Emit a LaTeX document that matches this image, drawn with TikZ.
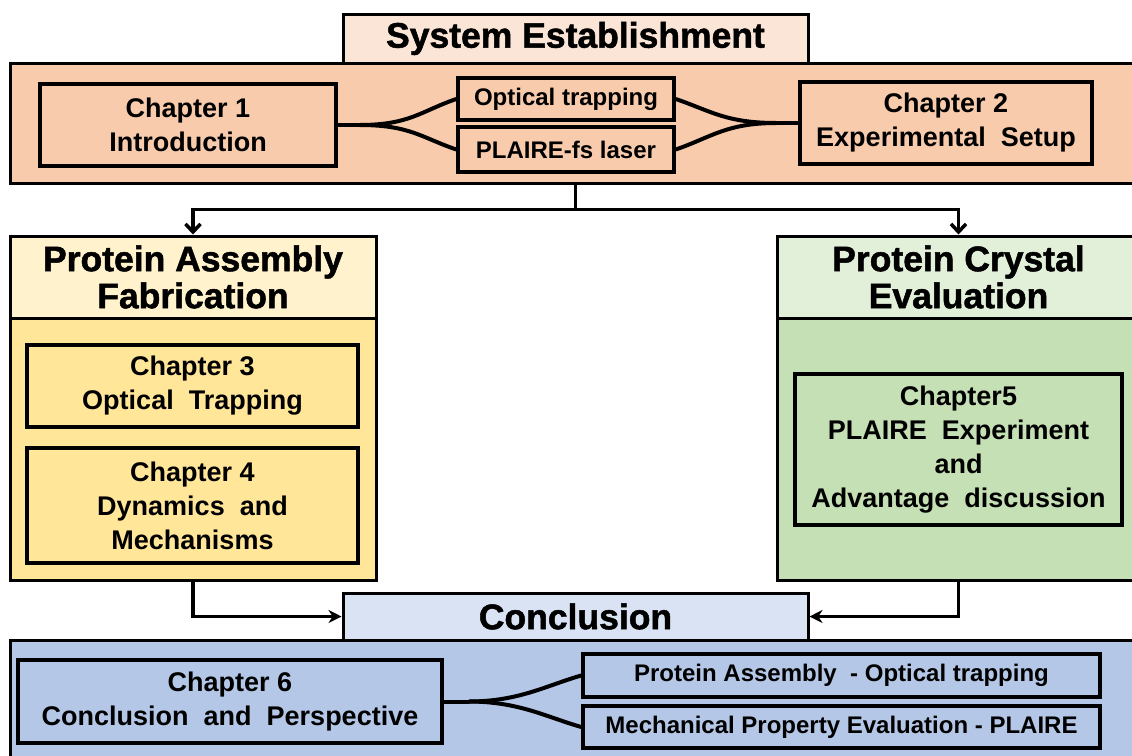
\documentclass[tikz,border=0pt]{standalone}
\usepackage{fontspec}
\setmainfont{Liberation Sans}
\newfontfamily\heavyfam{Liberation Sans}[BoldFeatures={FakeBold=1.4}]
\usetikzlibrary{arrows.meta,calc}
\definecolor{peachL}{HTML}{FBE5D6}
\definecolor{peach}{HTML}{F8CBAD}
\definecolor{yelL}{HTML}{FFF2CC}
\definecolor{yel}{HTML}{FFE699}
\definecolor{grnL}{HTML}{E2F0D9}
\definecolor{grn}{HTML}{C5E0B4}
\definecolor{bluL}{HTML}{DAE3F3}
\definecolor{blu}{HTML}{B4C7E7}
\newcommand\chapfnt{\bfseries\fontsize{27}{34}\selectfont}
\newcommand\titlefnt{\heavyfam\bfseries\fontsize{35.5}{37}\selectfont}
\newcommand\smallfnt{\bfseries\fontsize{24}{28}\selectfont}
\begin{document}
\begin{tikzpicture}[x=1pt,y=-1pt,
  outer/.style={draw, line width=3pt, inner sep=0pt, align=center},
  chapbox/.style={draw, line width=3.5pt, inner sep=0pt, align=center, font=\chapfnt},
  smallbox/.style={draw, line width=3.5pt, inner sep=0pt, align=center, font=\smallfnt},
  titlebox/.style={outer, font=\titlefnt},
  link/.style={line width=4pt},
  arr/.style={line width=3.5pt, -{Straight Barb[length=8pt,width=15pt,line width=3.5pt]}},
  arrb/.style={line width=3.5pt, -{Stealth[length=13pt,width=13pt]}}]
\useasboundingbox (0,0) rectangle (1132,755);
\clip (0,0) rectangle (1132,755);
\fill[white] (0,0) rectangle (1132,755);

% ---- top section
\node[outer, fill=peach, minimum width=1131pt, minimum height=120pt] (setbox) at (575.5,123) {};
\node[titlebox, fill=peachL, minimum width=465pt, minimum height=49pt] (setitle) at (575.5,38.5) {System Establishment};
\node[chapbox, minimum width=296pt, minimum height=82pt] (ch1) at (188,125) {Chapter 1\\Introduction};
\node[smallbox, minimum width=216pt, minimum height=42pt] (opt) at (566,99) {Optical trapping};
\node[smallbox, minimum width=216pt, minimum height=45pt] (las) at (566,149.5) {PLAIRE-fs laser};
\node[chapbox, minimum width=292pt, minimum height=82pt] (ch2) at (946,123) {Chapter 2\\Experimental\ \ Setup};

\draw[link] (ch1.east) -- ++(22,0) coordinate (c1);
\draw[link] (c1) .. controls +(50,0) and +(-35,12) .. (opt.west);
\draw[link] (c1) .. controls +(50,0) and +(-35,-12) .. (las.west);
\draw[link] (ch2.west) -- ++(-22,0) coordinate (c2);
\draw[link] (c2) .. controls +(-50,0) and +(35,12) .. (opt.east);
\draw[link] (c2) .. controls +(-50,0) and +(35,-12) .. (las.east);

% ---- left section
\node[outer, fill=yel, minimum width=366pt, minimum height=262pt] (pafb) at (193,449) {};
\node[titlebox, fill=yelL, minimum width=366pt, minimum height=82pt] (pafh) at (193,277) {Protein Assembly\\Fabrication};
\node[chapbox, minimum width=331pt, minimum height=82pt] (ch3) at (192.5,386) {Chapter 3\\Optical\ \ Trapping};
\node[chapbox, minimum width=331pt, minimum height=115pt] (ch4) at (192.5,505.5) {Chapter 4\\Dynamics\ \ and\\Mechanisms};

% ---- right section
\node[outer, fill=grn, minimum width=363pt, minimum height=262pt] (pceb) at (958.5,449) {};
\node[titlebox, fill=grnL, minimum width=363pt, minimum height=82pt] (pceh) at (958.5,277) {Protein Crystal\\Evaluation};
\node[chapbox, minimum width=327pt, minimum height=151pt] (ch5) at (958.5,449.5) {Chapter5\\PLAIRE\ \ Experiment\\and\\Advantage\ \ discussion};

% ---- top arrows
\draw[line width=3.5pt] (setbox.south) -- ++(0,25) coordinate (j);
\draw[arr] (j) -| (pafh.north);
\draw[arr] (j) -| (pceh.north);

% ---- bottom section
\node[outer, fill=blu, minimum width=1131pt, minimum height=130pt] (cbox) at (575.5,705) {};
\node[titlebox, fill=bluL, minimum width=465pt, minimum height=47pt] (conc) at (575.5,616.5) {Conclusion};
\node[chapbox, minimum width=424pt, minimum height=83pt] (ch6) at (230,701.5) {Chapter 6\\Conclusion\ \ and\ \ Perspective};
\node[smallbox, minimum width=517pt, minimum height=43pt] (pa) at (841.5,675.5) {Protein Assembly\ \ - Optical trapping};
\node[smallbox, minimum width=517pt, minimum height=42pt] (mp) at (841.5,727) {Mechanical Property Evaluation - PLAIRE};

\draw[arrb] (pafb.south) |- (conc.west);
\draw[arrb] (pceb.south) |- (conc.east);

\draw[link] (ch6.east) -- ++(25,0) coordinate (c6);
\draw[link] (c6) .. controls +(50,0) and +(-35,10) .. (pa.west);
\draw[link] (c6) .. controls +(50,0) and +(-35,-10) .. (mp.west);
\end{tikzpicture}
\end{document}
